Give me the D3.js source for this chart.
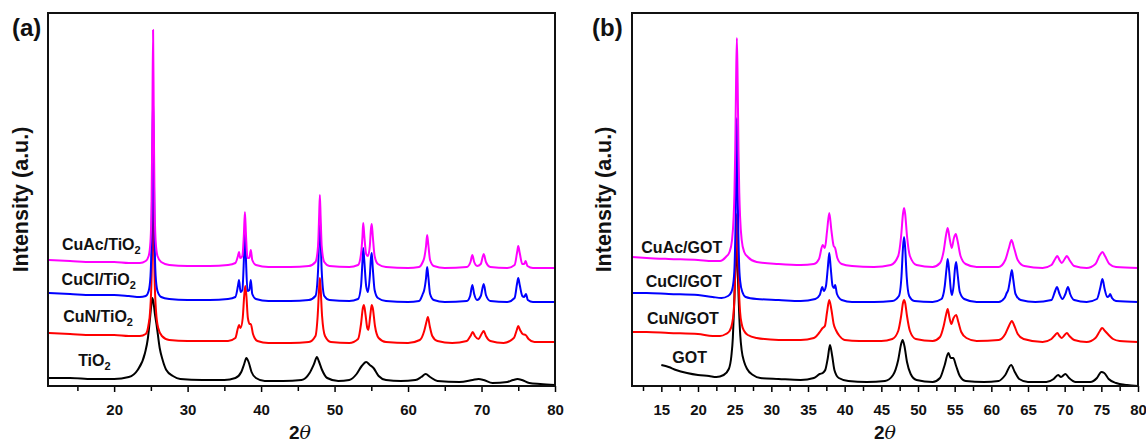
<!DOCTYPE html>
<html>
<head>
<meta charset="utf-8">
<script src="https://cdn.jsdelivr.net/npm/d3@7"></script>
<style>
  body { margin: 0; background: #fff; }
  svg { display: block; }
</style>
</head>
<body>
<div id="viz"></div>
<script>
// XRD patterns, [2theta, intensity (a.u.)]
const tio2 = [[11,8],[14,8],[17,7],[20,7],[22,9],[23.2,16],[24.2,33],[24.6,48],[24.86,66],[25.05,80],[25.2,88],[25.35,84],[25.55,72],[25.8,60],[26.2,38],[26.6,26],[27.1,16],[28,10],[29,7],[32,6],[35,6],[36.5,8],[37.3,14],[37.7,22],[38,28],[38.3,24],[38.7,14],[39.3,8],[40.5,5],[43,5],[45.5,6],[46.6,13],[47.2,22],[47.6,29],[47.85,25],[48.3,16],[49,8],[50.5,5],[52,6],[53,12],[53.7,20],[54.3,24],[54.8,21],[55.3,18],[56,10],[57,6],[59,5],[61,6],[61.8,9],[62.4,12],[63,9],[64,5],[67,4],[68.8,6],[69.6,7],[70.3,6],[71.5,3],[73.5,4],[74.3,6],[74.9,7],[75.5,6],[76.5,3],[78,2],[80,1]];
const cuNTiO2 = [[11,53],[14,52],[17,51],[20,51],[22,50],[23.5,50],[24.3,52],[24.65,60],[24.9,75],[25.1,110],[25.2,150],[25.3,200],[25.4,150],[25.5,110],[25.7,75],[26,58],[26.5,50],[27.5,46],[30,45],[33,45],[35.5,45],[36.5,48],[36.85,58],[37,61],[37.2,58],[37.5,68],[37.7,90],[37.85,100],[38,90],[38.2,68],[38.45,62],[38.6,62],[38.9,52],[39.5,45],[41,43],[44,43],[46.5,44],[47.4,50],[47.7,70],[47.9,98],[48,108],[48.1,98],[48.3,70],[48.7,50],[49.5,44],[52,43],[53.2,47],[53.6,62],[53.85,78],[54,81],[54.2,72],[54.45,58],[54.6,56],[54.85,70],[55.05,81],[55.2,78],[55.5,60],[56,48],[57,44],[60,43],[61.6,46],[62.2,55],[62.5,64],[62.7,69],[62.95,60],[63.3,50],[64,45],[66,43],[68,45],[68.5,50],[68.8,54],[69.1,50],[69.6,47],[70,52],[70.3,55],[70.6,50],[71.2,45],[73,43],[74.4,48],[74.8,56],[75,60],[75.25,56],[75.6,52],[76,51],[76.4,47],[77.2,44],[80,44]];
const cuClTiO2 = [[11,93],[14,92],[17,91],[20,91],[22,90],[23.5,89],[24.3,90],[24.7,95],[24.95,110],[25.1,150],[25.2,220],[25.3,290],[25.4,220],[25.5,150],[25.65,110],[25.9,95],[26.4,89],[27.5,87],[30,86],[33,86],[35.5,87],[36.5,89],[36.85,100],[37,106],[37.2,94],[37.45,96],[37.65,125],[37.8,160],[37.95,125],[38.15,95],[38.4,96],[38.6,106],[38.8,92],[39.3,87],[41,85],[44,85],[46.5,86],[47.4,90],[47.75,115],[47.9,150],[48,168],[48.1,150],[48.25,115],[48.6,90],[49.3,86],[52,85],[53.2,87],[53.6,100],[53.8,125],[53.9,138],[54.05,125],[54.3,100],[54.55,94],[54.8,110],[54.95,128],[55.06,133],[55.2,118],[55.45,96],[55.9,88],[57,85],[60,84],[61.5,85],[62,92],[62.2,96],[62.45,108],[62.6,119],[62.75,110],[63,92],[63.5,86],[65,84],[68,85],[68.45,90],[68.75,101],[69,92],[69.4,86],[69.9,90],[70.3,102],[70.6,91],[71.2,85],[73.5,84],[74.5,88],[74.85,103],[75,108],[75.2,101],[75.55,90],[75.8,89],[76.05,92],[76.3,86],[77,84],[80,84]];
const cuAcTiO2 = [[11,126],[14,125],[17,124],[20,124],[22,123],[23.5,123],[24.3,125],[24.7,130],[24.95,145],[25.1,185],[25.2,260],[25.3,356],[25.4,260],[25.5,185],[25.65,145],[25.9,130],[26.4,124],[27.5,121],[30,120],[33,120],[35.5,121],[36.5,123],[36.85,130],[37,134],[37.15,128],[37.45,130],[37.65,150],[37.8,174],[37.95,150],[38.15,128],[38.4,128],[38.6,136],[38.8,126],[39.3,121],[41,119],[44,119],[46.5,120],[47.4,124],[47.75,140],[47.9,170],[48,191],[48.1,170],[48.25,140],[48.6,124],[49.3,120],[52,119],[53.2,121],[53.6,132],[53.8,150],[53.9,163],[54.05,150],[54.3,132],[54.55,130],[54.8,140],[54.95,157],[55.06,162],[55.2,150],[55.45,130],[55.9,122],[57,119],[60,118],[61.5,119],[62,124],[62.2,128],[62.45,140],[62.6,151],[62.75,142],[63,126],[63.5,120],[65,118],[68,119],[68.5,124],[68.75,131],[69,124],[69.4,120],[69.9,122],[70.3,132],[70.6,124],[71.2,119],[73.5,118],[74.5,121],[74.85,134],[75,140],[75.2,133],[75.55,122],[75.8,122],[76,125],[76.25,120],[77,118],[80,118]];

const got = [[15,21],[16,19],[17,16],[18.5,13],[20,11],[21.5,10],[22.5,9],[23.5,11],[24.2,17],[24.55,30],[24.75,48],[24.9,75],[25.08,114],[25.25,140],[25.42,114],[25.6,75],[25.77,50],[25.95,36],[26.3,24],[26.7,17],[27.5,11],[28.5,8],[31,7],[34,6],[35.8,8],[36.6,12],[37,13],[37.35,16],[37.7,28],[38,41],[38.3,30],[38.6,16],[39.2,8],[40.5,5],[43,4],[45.5,5],[46.6,11],[47.3,26],[47.7,42],[47.9,46],[48.15,40],[48.5,24],[49,12],[49.8,6],[52,4],[53,8],[53.6,20],[54.15,33],[54.45,28],[54.8,28],[55.2,20],[55.7,10],[56.5,5],[59,4],[61,5],[61.9,11],[62.7,21],[63.2,14],[63.8,7],[65,4],[67.5,4],[68.5,7],[69.1,11],[69.5,9],[70.1,12],[70.6,8],[71.5,4],[73.5,4],[74.4,8],[75,14],[75.4,13],[76,7],[77,3],[78.5,1],[80,0]];
const cuNGOT = [[11,54],[13,54],[16,53],[20,52],[22,50],[23,50],[23.8,52],[24.3,55],[24.64,62],[24.86,74],[24.97,88],[25.08,113],[25.19,148],[25.3,172],[25.41,148],[25.52,113],[25.63,88],[25.74,74],[25.96,62],[26.3,55],[26.8,51],[28,48],[31,46],[34,46],[35.8,48],[36.5,53],[37,58],[37.3,60],[37.6,74],[37.9,86],[38.2,76],[38.5,62],[38.8,56],[39.3,50],[40,46],[42,45],[45,45],[46.5,47],[47.3,55],[47.7,70],[47.95,83],[48.1,86],[48.25,83],[48.5,70],[48.9,55],[49.7,47],[52,45],[53,49],[53.5,60],[53.85,72],[54.05,77],[54.3,68],[54.55,62],[54.85,68],[55.2,71],[55.5,64],[55.9,54],[56.6,48],[58,45],[61,46],[61.9,52],[62.4,60],[62.8,65],[63.15,60],[63.6,52],[64.4,47],[67,44],[68.2,47],[68.7,51],[69,53],[69.3,50],[69.6,48],[70,51],[70.3,53],[70.65,50],[71.3,46],[73,44],[74.2,48],[74.8,55],[75.1,58],[75.5,55],[76,51],[76.6,47],[77.5,45],[80,44]];
const cuClGOT = [[11,93],[13,93],[16,92],[20,91],[22,89],[23.2,88],[24.1,90],[24.55,94],[24.85,105],[25,123],[25.15,177],[25.225,232],[25.3,268],[25.375,232],[25.45,177],[25.6,123],[25.75,105],[26.05,94],[26.5,89],[28,87],[31,86],[34,85],[36,87],[36.6,91],[36.95,99],[37.15,95],[37.45,100],[37.7,118],[37.9,133],[38.1,118],[38.35,100],[38.55,98],[38.7,101],[38.95,92],[39.6,86],[41,84],[44,84],[46.5,85],[47.4,90],[47.75,110],[47.95,138],[48.1,149],[48.25,138],[48.45,110],[48.8,90],[49.5,85],[52,84],[53.2,87],[53.65,100],[53.9,118],[54.05,127],[54.25,115],[54.5,95],[54.65,91],[54.85,100],[55.05,118],[55.2,124],[55.4,112],[55.7,94],[56.3,87],[58,84],[61,84],[61.8,88],[62.1,93],[62.3,96],[62.55,106],[62.8,116],[63,106],[63.3,92],[64,86],[66,84],[68.2,86],[68.7,95],[68.95,99],[69.25,93],[69.7,87],[70.1,92],[70.45,99],[70.75,92],[71.3,86],[73,84],[74.4,87],[74.85,98],[75.15,107],[75.45,97],[75.8,89],[76.05,90],[76.2,92],[76.45,88],[77,85],[80,84]];
const cuAcGOT = [[11,129],[13,128],[16,127],[20,126],[22,125],[23,125],[23.8,129],[24.3,134],[24.64,146],[24.86,169],[24.97,193],[25.08,236],[25.19,303],[25.3,348],[25.41,303],[25.52,236],[25.63,193],[25.74,169],[25.96,146],[26.3,134],[26.8,129],[28,124],[31,122],[34,121],[35.8,122],[36.5,127],[37,141],[37.3,138],[37.6,155],[37.9,173],[38.2,155],[38.5,140],[38.7,138],[39,128],[39.6,122],[41,120],[44,119],[46.3,121],[47.3,130],[47.7,150],[47.95,172],[48.1,178],[48.25,172],[48.5,150],[48.9,130],[49.8,121],[52,119],[53,123],[53.5,135],[53.85,152],[54.05,158],[54.3,148],[54.6,138],[54.9,148],[55.15,152],[55.4,145],[55.8,130],[56.5,122],[58,119],[61,119],[61.9,126],[62.4,138],[62.75,146],[63.1,138],[63.6,126],[64.5,120],[67,118],[68.2,121],[68.7,127],[69,130],[69.3,126],[69.6,123],[70,127],[70.3,130],[70.65,126],[71.3,120],[73,118],[74.2,122],[74.8,131],[75.15,134],[75.5,130],[76.1,122],[77,119],[80,118]];

const namesA = ["TiO2", "CuN/TiO2", "CuCl/TiO2", "CuAc/TiO2"];
const namesB = ["GOT", "CuN/GOT", "CuCl/GOT", "CuAc/GOT"];
const ticksA = [20, 30, 40, 50, 60, 70, 80];
const minorA = [15, 25, 35, 45, 55, 65, 75];
const ticksB = [15, 20, 25, 30, 35, 40, 45, 50, 55, 60, 65, 70, 75, 80];
const minorB = [12.5, 17.5, 22.5, 27.5, 32.5, 37.5, 42.5, 47.5, 52.5, 57.5, 62.5, 67.5, 72.5, 77.5];
const xDomain = [11, 80];
const yDomain = [0, 373];

const colors = ["#000000", "#ff0000", "#0000ff", "#ff00ff"];
const font = "Arial, 'Liberation Sans', Helvetica, sans-serif";

const width = 1146, height = 443;
const plotTop = 13, plotBottom = 386;

const svg = d3.select("#viz").append("svg")
    .attr("width", width)
    .attr("height", height)
    .style("background", "#fff");

const panels = [
    { tag: "(a)", tagX: 12, left: 48, right: 555, titleX: 28, xLabel: 300,
      series: [tio2, cuNTiO2, cuClTiO2, cuAcTiO2], names: namesA, ticks: ticksA, minor: minorA,
      // label anchors in data coords (left edge, baseline)
      labelAt: [[15.1, 20], [13.06, 64], [12.85, 101], [12.9, 136]] },
    { tag: "(b)", tagX: 592, left: 632, right: 1138, titleX: 611, xLabel: 885,
      series: [got, cuNGOT, cuClGOT, cuAcGOT], names: namesB, ticks: ticksB, minor: minorB,
      labelAt: [[16.5, 23], [13.03, 62], [12.86, 99], [12.27, 133]] }
];

panels.forEach(p => {
    const x = d3.scaleLinear().domain(xDomain).range([p.left, p.right]);
    const y = d3.scaleLinear().domain(yDomain).range([plotBottom, plotTop]);
    const g = svg.append("g");

    const line = d3.line()
        .x(d => x(d[0]))
        .y(d => y(d[1]))
        .curve(d3.curveMonotoneX);

    const clipId = "clip" + p.tag.replace(/\W/g, "");
    svg.append("clipPath").attr("id", clipId)
        .append("rect").attr("x", p.left).attr("y", plotTop).attr("width", p.right - p.left).attr("height", plotBottom - plotTop);

    g.append("g").attr("clip-path", `url(#${clipId})`)
        .selectAll("path").data(p.series).join("path")
        .attr("d", line)
        .attr("fill", "none")
        .attr("stroke", (d, i) => colors[i])
        .attr("stroke-width", 2)
        .attr("stroke-linejoin", "round");

    // series labels, trailing "2" as subscript
    p.names.forEach((name, i) => {
        const t = g.append("text")
            .attr("x", x(p.labelAt[i][0]))
            .attr("y", y(p.labelAt[i][1]))
            .style("font", `bold 16px ${font}`)
            .attr("fill", "#111");
        if (name.endsWith("TiO2")) {
            t.append("tspan").text(name.slice(0, -1));
            t.append("tspan").attr("dy", 4).style("font-size", "11px").text("2");
        } else {
            t.text(name);
        }
    });

    // minor ticks, then labelled ticks
    g.append("g").attr("transform", `translate(0,${plotBottom})`)
        .call(d3.axisBottom(x).tickValues(p.minor).tickSize(5).tickFormat(""))
        .call(a => a.select(".domain").remove())
        .call(a => a.selectAll("line").attr("stroke-width", 1.5));
    g.append("g").attr("transform", `translate(0,${plotBottom})`)
        .call(d3.axisBottom(x).tickValues(p.ticks).tickSize(6).tickPadding(12))
        .call(a => a.select(".domain").remove())
        .call(a => a.selectAll("line").attr("stroke-width", 1.5))
        .call(a => a.selectAll("text").style("font", `bold 15px ${font}`).attr("fill", "#111"));

    g.append("rect")
        .attr("x", p.left).attr("y", plotTop)
        .attr("width", p.right - p.left).attr("height", plotBottom - plotTop)
        .attr("fill", "none").attr("stroke", "#111").attr("stroke-width", 2);

    g.append("text")
        .attr("transform", `translate(${p.titleX},${(plotTop + plotBottom) / 2}) rotate(-90)`)
        .attr("text-anchor", "middle")
        .style("font", `bold 21.5px ${font}`)
        .attr("fill", "#111")
        .text("Intensity (a.u.)");

    const xt = g.append("text")
        .attr("x", p.xLabel).attr("y", 439)
        .attr("text-anchor", "middle")
        .attr("fill", "#111");
    xt.append("tspan").style("font", `bold 19px ${font}`).text("2");
    xt.append("tspan").style("font", "italic 19px 'DejaVu Serif', 'Liberation Serif', serif").text("θ");

    g.append("text")
        .attr("x", p.tagX).attr("y", 36)
        .style("font", `bold 24px ${font}`)
        .attr("fill", "#111")
        .text(p.tag);
});
</script>
</body>
</html>
